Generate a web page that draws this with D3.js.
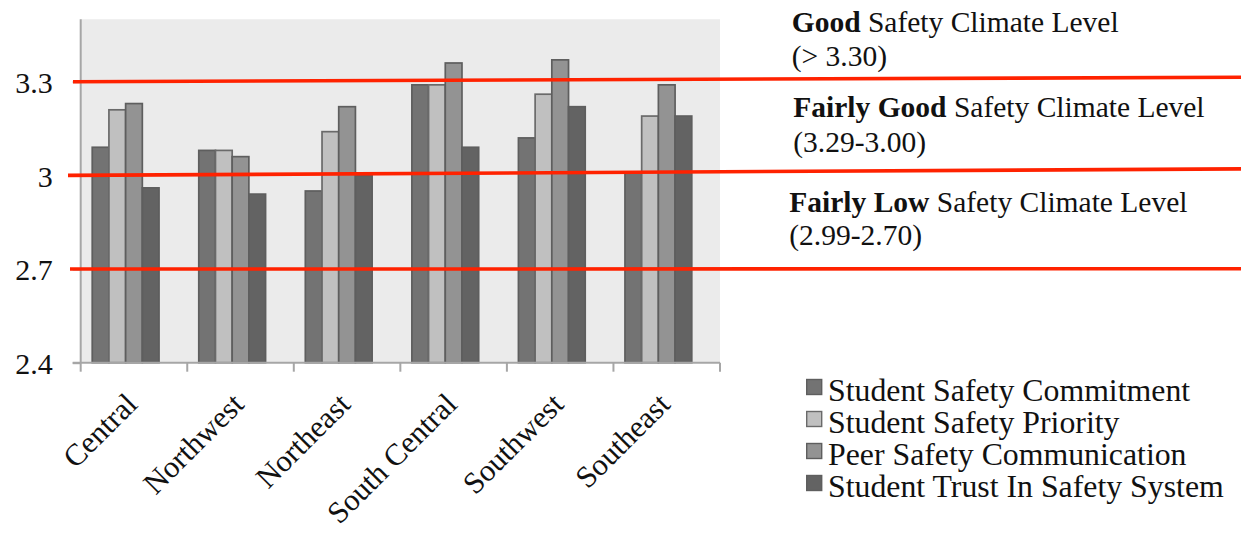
<!DOCTYPE html>
<html>
<head>
<meta charset="utf-8">
<script src="https://cdn.jsdelivr.net/npm/d3@7"></script>
<style>
  html, body { margin: 0; padding: 0; background: #ffffff; }
  svg { display: block; font-family: "Liberation Serif", "Times New Roman", serif; }
</style>
</head>
<body>
<svg id="chart" width="1241" height="533"></svg>
<script>
// Regions on the category axis
const regions = ["Central", "Northwest", "Northeast", "South Central", "Southwest", "Southeast"];

// Safety climate dimensions (one bar each per region)
const seriesNames = [
  "Student Safety Commitment",
  "Student Safety Priority",
  "Peer Safety Communication",
  "Student Trust In Safety System"
];

// Mean scores per dimension, in region order
const commitment    = [3.09, 3.08, 2.95, 3.29, 3.12, 3.01];
const priority      = [3.21, 3.08, 3.14, 3.29, 3.26, 3.19];
const communication = [3.23, 3.06, 3.22, 3.36, 3.37, 3.29];
const trust         = [2.96, 2.94, 3.00, 3.09, 3.22, 3.19];

// Value axis ticks
const yTicks = [2.4, 2.7, 3.0, 3.3];

// Climate level thresholds and their captions
const thresholds  = [3.3, 3.0, 2.7];
const levelBold   = ["Good", "Fairly Good", "Fairly Low"];
const levelRest   = [" Safety Climate Level", " Safety Climate Level", " Safety Climate Level"];
const levelRanges = ["(> 3.30)", "(3.29-3.00)", "(2.99-2.70)"];

const seriesValues = [commitment, priority, communication, trust];

// ---- styling / layout ----
const fills   = ["#737373", "#c0c0c0", "#939393", "#636363"];
const strokes = ["#5e5e5e", "#6a6a6a", "#5e5e5e", "#5e5e5e"];
const plot = { left: 80.7, right: 720, bottom: 362.7 };
const yMin = 2.4, yMax = 3.5, pxPerUnit = 312.2;

const svg = d3.select("#chart");

const x = d3.scaleBand().domain(regions).range([plot.left, plot.right]).paddingInner(0).paddingOuter(0);
// five slots per region: four dimensions plus an empty trailing slot
const xs = d3.scaleBand().domain(d3.range(5)).range([0, x.bandwidth()]).paddingInner(0).paddingOuter(0.69);
const y = d3.scaleLinear().domain([yMin, yMax])
  .range([plot.bottom, plot.bottom - (yMax - yMin) * pxPerUnit]);

// plot area background
svg.append("rect")
  .attr("x", plot.left).attr("y", y(yMax))
  .attr("width", plot.right - plot.left).attr("height", plot.bottom - y(yMax))
  .attr("fill", "#ebebeb");

// bars
const rows = regions.map((r, i) => ({ region: r, values: seriesValues.map(s => s[i]) }));
const groups = svg.append("g").selectAll("g").data(rows).join("g")
  .attr("transform", d => `translate(${x(d.region)},0)`);
groups.selectAll("rect").data(d => d.values.map((v, k) => ({ v, k }))).join("rect")
  .attr("x", d => xs(d.k))
  .attr("y", d => y(d.v))
  .attr("width", xs.bandwidth())
  .attr("height", d => y(yMin) - y(d.v))
  .attr("fill", d => fills[d.k])
  .attr("stroke", d => strokes[d.k])
  .attr("stroke-width", 1.7);

// value axis
const yAxis = d3.axisLeft(y).tickValues(yTicks).tickSize(8).tickPadding(20)
  .tickFormat(d => String(+d.toFixed(1)));
const gy = svg.append("g").attr("transform", `translate(${plot.left},0)`).call(yAxis);
gy.select(".domain").attr("stroke", "#a6a6a6").attr("stroke-width", 2)
  .attr("d", `M0,${y(yMax)}V${plot.bottom}`);
gy.selectAll(".tick line").attr("stroke", "#a6a6a6").attr("stroke-width", 2);
gy.selectAll(".tick text").attr("font-size", 30).attr("fill", "#111")
  .attr("font-family", "Liberation Serif, serif").attr("dy", "0.36em");

// category axis
const gx = svg.append("g");
gx.append("line").attr("x1", plot.left - 8).attr("x2", plot.right)
  .attr("y1", plot.bottom).attr("y2", plot.bottom)
  .attr("stroke", "#a6a6a6").attr("stroke-width", 2);
const boundaries = regions.map(r => x(r)).concat([plot.right]);
gx.selectAll("line.tick").data(boundaries).join("line").attr("class", "tick")
  .attr("x1", d => d).attr("x2", d => d)
  .attr("y1", plot.bottom).attr("y2", plot.bottom + 9)
  .attr("stroke", "#a6a6a6").attr("stroke-width", 2);
gx.selectAll("text").data(regions).join("text")
  .attr("transform", d => `translate(${x(d) + x.bandwidth() / 2 + 5},406) rotate(-45)`)
  .attr("text-anchor", "end")
  .attr("font-size", 30.5)
  .attr("fill", "#111")
  .text(d => d);

// threshold lines
const lineStart = [73, 68, 70];
const lineRise  = [4.5, 6.5, 0.3];
svg.append("g").selectAll("line").data(thresholds).join("line")
  .attr("x1", (d, i) => lineStart[i]).attr("y1", d => y(d))
  .attr("x2", 1241).attr("y2", (d, i) => y(d) - lineRise[i])
  .attr("stroke", "#ff2200").attr("stroke-width", 3.6);

// level captions
const capX  = [791.7, 793.3, 789.3];
const capY1 = [32.3, 116.7, 211.7];
const capY2 = [65.5, 151.7, 245];
const caps = svg.append("g").attr("font-size", 29.5).attr("fill", "#111");
thresholds.forEach((t, i) => {
  const t1 = caps.append("text").attr("x", capX[i]).attr("y", capY1[i]);
  t1.append("tspan").attr("font-weight", "bold").text(levelBold[i]);
  t1.append("tspan").text(levelRest[i]);
  caps.append("text").attr("x", capX[i]).attr("y", capY2[i]).text(levelRanges[i]);
});

// legend
const legend = svg.append("g").attr("transform", "translate(806,0)");
seriesNames.forEach((name, i) => {
  const cy = 387 + 32 * i;
  legend.append("rect").attr("x", 0.7).attr("y", cy - 7.5)
    .attr("width", 15).attr("height", 15)
    .attr("fill", fills[i]).attr("stroke", strokes[i]).attr("stroke-width", 1.4);
  legend.append("text").attr("x", 22).attr("y", cy + 14)
    .attr("font-size", 31.8).attr("fill", "#111").text(name);
});
</script>
</body>
</html>
